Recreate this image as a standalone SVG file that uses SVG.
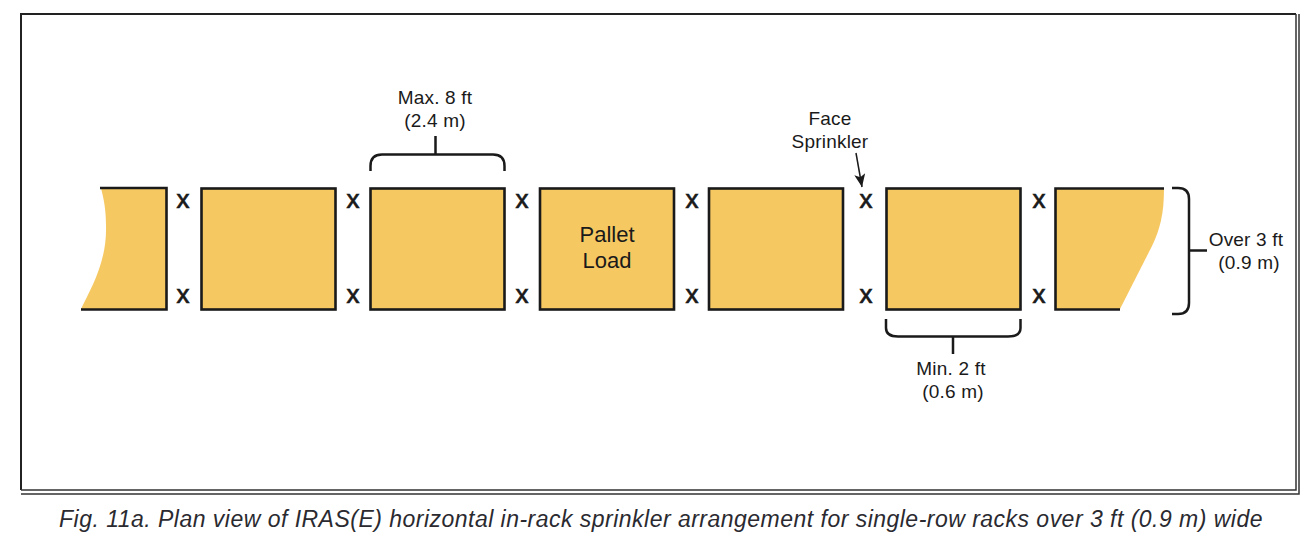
<svg xmlns="http://www.w3.org/2000/svg" width="1312" height="542" viewBox="0 0 1312 542">
<style>
text{font-family:"Liberation Sans",Arial,sans-serif;fill:#1a1a1a;text-anchor:middle}
.lbl{font-size:19px;letter-spacing:.2px}
.big{font-size:22px}
.x{font-size:26px;stroke:#1a1a1a;stroke-width:.7px}
.load{fill:#f6c862;stroke:#1a1a1a;stroke-width:2.600}
.fill{fill:#f6c862;stroke:none}
.edge{fill:none;stroke:#1a1a1a;stroke-width:2.600}
.brace{fill:none;stroke:#1a1a1a;stroke-width:2.500}
.frame{fill:none;stroke:#333;stroke-width:1.500}
.cap{font-size:23px;font-style:italic;fill:#2a2a30;letter-spacing:.48px}
</style>
<defs><marker id="arr" markerWidth="13" markerHeight="11" refX="13" refY="5.500" orient="auto" markerUnits="userSpaceOnUse" viewBox="0 0 13 11"><path d="M0 0L13 5.500L0 11L3 5.500Z" fill="#1a1a1a"/></marker></defs>
<rect width="1312" height="542" fill="#fff"/>
<g id="frame">
<path class="frame" style="stroke-width:2;stroke:#222" d="M21 490V14H1296"/>
<path class="frame" d="M1296 14V490H21"/>
<path class="frame" d="M1299 14V494H21"/>
</g>
<g id="load-left">
<path class="fill" d="M101 188H166V309H81C91 288 107 262 106 226C106 210 104 200 101 188Z"/>
<path class="edge" d="M100 188H166.500V309.500H81"/>
</g>
<g id="load-2"><rect class="load" x="201.500" y="188.500" width="134" height="121"/></g>
<g id="load-3"><rect class="load" x="370.500" y="188.500" width="134" height="121"/></g>
<g id="load-4"><rect class="load" x="540" y="188.500" width="134" height="121"/><text class="big" x="607" y="242">Pallet</text><text class="big" x="607" y="268">Load</text></g>
<g id="load-5"><rect class="load" x="709" y="188.500" width="134" height="121"/></g>
<g id="load-6"><rect class="load" x="886.500" y="188.500" width="134" height="121"/></g>
<g id="load-right">
<path class="fill" d="M1055 188H1164C1164 214 1160 229 1152 246L1120 309H1055Z"/>
<path class="edge" d="M1164 188.500H1055.500V309.500H1120"/>
</g>
<g id="sprinklers">
<text class="x" x="183" y="208">x</text><text class="x" x="183" y="303">x</text>
<text class="x" x="353" y="208">x</text><text class="x" x="353" y="303">x</text>
<text class="x" x="522" y="208">x</text><text class="x" x="522" y="303">x</text>
<text class="x" x="692" y="208">x</text><text class="x" x="692" y="303">x</text>
<text class="x" x="866" y="208">x</text><text class="x" x="866" y="303">x</text>
<text class="x" x="1039" y="208">x</text><text class="x" x="1039" y="303">x</text>
</g>
<g id="connectors">
<path class="brace" d="M370.500 171V166Q370.500 154.500 382 154.500H493Q504.500 154.500 504.500 166V171M435.500 154.500V136"/>
<path class="brace" d="M886 319V328Q886 336.500 898 336.500H1008Q1020.500 336.500 1020.500 328V319M953 336.500V354"/>
<path class="brace" d="M1172 188H1178Q1189 188 1189 199V303Q1189 314 1178 314H1172M1189 250.500H1207"/>
<path fill="none" stroke="#1a1a1a" stroke-width="1.500" marker-end="url(#arr)" d="M856 153L862 187"/>
</g>
<g id="labels">
<text class="lbl" x="435" y="104">Max. 8 ft</text><text class="lbl" x="435" y="127">(2.4 m)</text>
<text class="lbl" x="830" y="125">Face</text><text class="lbl" x="830" y="148">Sprinkler</text>
<text class="lbl" x="951" y="375">Min. 2 ft</text><text class="lbl" x="953" y="398">(0.6 m)</text>
<text class="lbl" x="1246" y="246">Over 3 ft</text><text class="lbl" x="1249" y="269">(0.9 m)</text>
<text class="cap" x="661" y="527">Fig. 11a. Plan view of IRAS(E) horizontal in-rack sprinkler arrangement for single-row racks over 3 ft (0.9 m) wide</text>
</g>
</svg>
